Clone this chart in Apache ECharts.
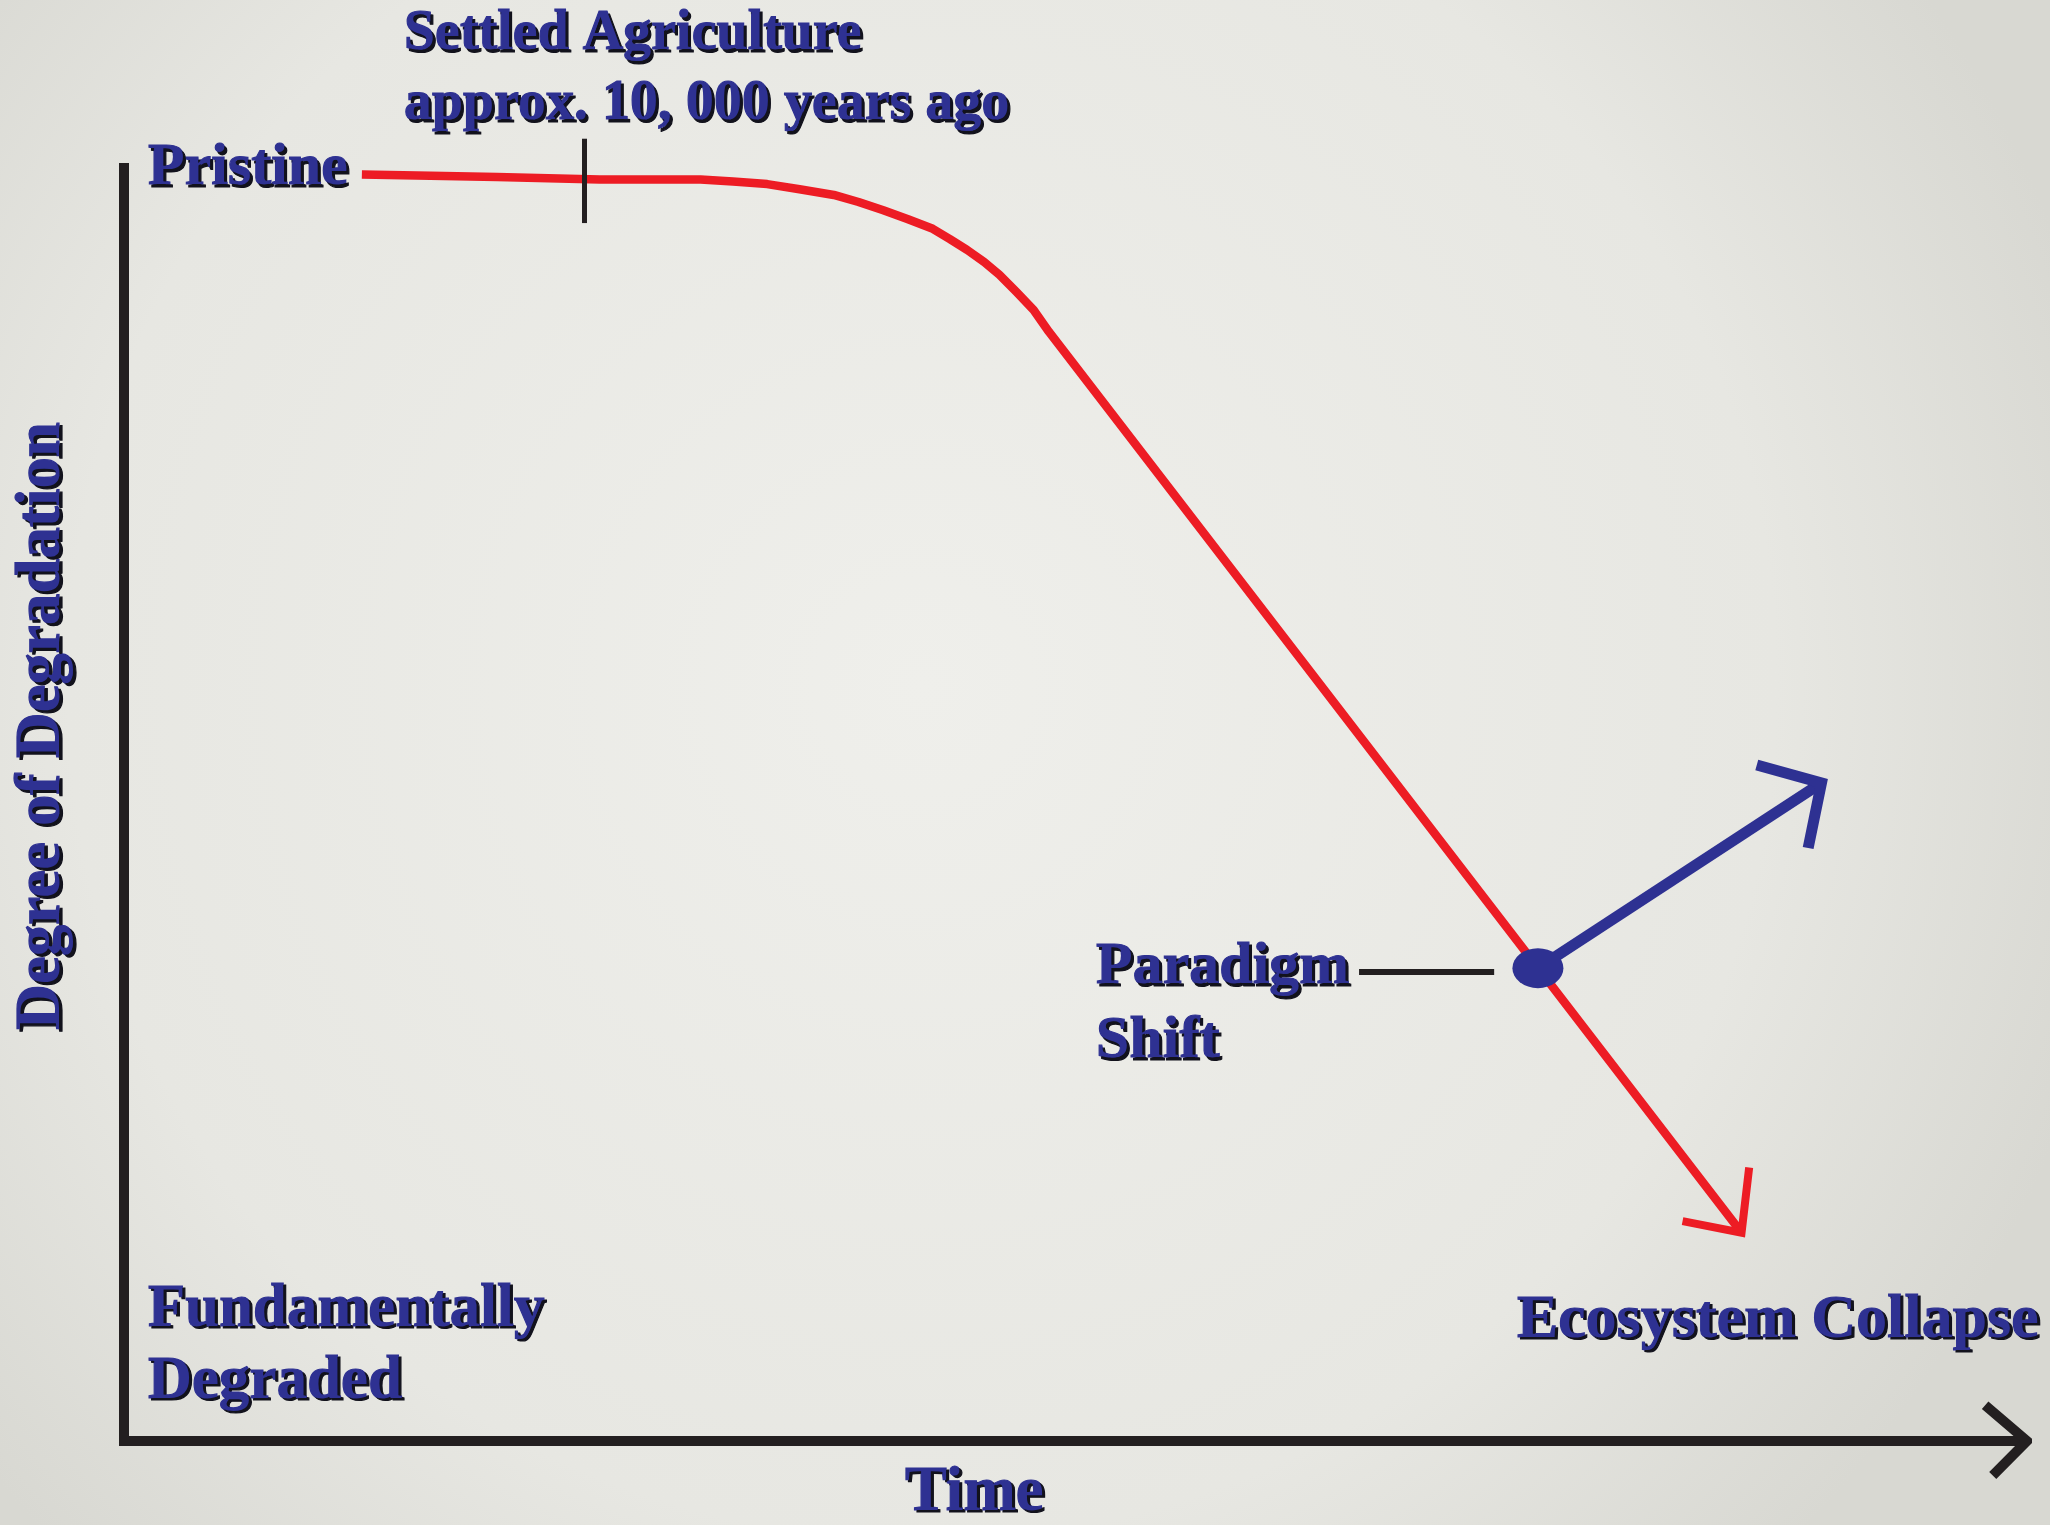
<!DOCTYPE html>
<html>
<head>
<meta charset="utf-8">
<script src="https://cdn.jsdelivr.net/npm/echarts@6/dist/echarts.min.js"></script>
<style>
html,body{margin:0;padding:0;}
#chart{width:2050px;height:1525px;}
</style>
</head>
<body>
<div id="chart"></div>
<script>
// ---- data (time 0..100, degradation level 0..100 where 100 = pristine) ----
const curveTime        = [12.5, 16.1, 19.6, 25.0, 27.6, 30.3, 32.0, 33.8, 35.5, 37.3, 38.6, 39.9, 41.2, 42.5, 43.4, 44.3, 45.2, 46.0, 46.9, 47.8, 48.6, 85.0];
const curveLevel       = [99.1, 99.0, 98.9, 98.7, 98.7, 98.7, 98.55, 98.35, 97.95, 97.5, 96.95, 96.3, 95.6, 94.85, 94.05, 93.2, 92.25, 91.25, 89.9, 88.5, 86.8, 16.3];
const collapseHeadX    = [81.9, 85.0, 85.4];
const collapseHeadY    = [17.2, 16.3, 21.4];
const paradigmShift    = [74.3, 37.0];
const recoveryTip      = [89.2, 51.5];
const recoveryHeadX    = [85.8, 89.2, 88.5];
const recoveryHeadY    = [52.9, 51.5, 46.4];
const agricultureTime  = 24.2;
const agricultureTickY = [101.9, 95.3];
const pointerX         = [64.9, 72.0];
const pointerY         = 36.7;
const axisCornerX      = [0, 0, 100];
const axisCornerY      = [100, 0, 0];
const timeArrowX       = [97.8, 100, 98.2];
const timeArrowY       = [2.8, 0, -2.7];
const labelTexts   = ['Pristine', 'Settled Agriculture\napprox. 10, 000 years ago', 'Degree of Degradation',
                      'Paradigm\nShift', 'Ecosystem Collapse', 'Fundamentally\nDegraded', 'Time'];
const labelAnchorX = [1.26, 14.71, -4.26, 51.08, 73.2, 1.26, 41.04];
const labelAnchorY = [99.55, 107.3, 55.95, 34.15, 9.42, 7.45, -4.1];

// ---- build ----
const zip = (xs, ys) => xs.map((x, i) => [x, ys[i]]);
const BLUE = '#2e3192', RED = '#ed1c24', BLACK = '#231f20';
const FONT = "'Liberation Serif', 'DejaVu Serif', serif";
const labelSizes = [60, 56, 63, 60, 62, 61, 63];
const labelRot   = [0, 0, 90, 0, 0, 0, 0];
const labelLH    = [60, 70, 63, 74, 62, 72, 63];

const lineSeries = (data, color, width, z, join) => ({
  type: 'line', data, symbol: 'none', clip: false, silent: true, z: z || 2,
  lineStyle: { color, width, join: join || 'miter', cap: 'butt', opacity: 1 }, animation: false
});

const labelData = labelTexts.map((t, i) => ({
  name: t,
  value: [labelAnchorX[i], labelAnchorY[i]],
  label: {
    fontSize: labelSizes[i],
    lineHeight: labelLH[i],
    rotate: labelRot[i],
    align: labelRot[i] ? 'center' : 'left'
  }
}));

const chart = echarts.init(document.getElementById('chart'), null, { renderer: 'canvas' });
chart.setOption({
  animation: false,
  backgroundColor: new echarts.graphic.RadialGradient(0.45, 0.45, 0.8, [
    { offset: 0, color: '#efefeb' },
    { offset: 0.7, color: '#e7e7e2' },
    { offset: 1, color: '#d8d8d2' }
  ]),
  grid: { left: 124, right: 23, top: 163, bottom: 84 },
  xAxis: { type: 'value', min: 0, max: 100, show: false },
  yAxis: { type: 'value', min: 0, max: 100, show: false },
  series: [
    lineSeries(zip(axisCornerX, axisCornerY), BLACK, 10, 1),
    lineSeries(zip(timeArrowX, timeArrowY), BLACK, 10, 1),
    lineSeries(zip(curveTime, curveLevel), RED, 8.5, 2, 'round'),
    lineSeries(zip(collapseHeadX, collapseHeadY), RED, 8, 2),
    lineSeries([[agricultureTime, agricultureTickY[0]], [agricultureTime, agricultureTickY[1]]], BLACK, 5, 3),
    lineSeries([[pointerX[0], pointerY], [pointerX[1], pointerY]], BLACK, 6, 3),
    lineSeries([paradigmShift, recoveryTip], BLUE, 11, 4),
    lineSeries(zip(recoveryHeadX, recoveryHeadY), BLUE, 11, 4),
    {
      type: 'scatter', data: [paradigmShift], symbol: 'circle', symbolSize: [51, 40],
      itemStyle: { color: BLUE, opacity: 1 }, z: 5, silent: true
    },
    {
      type: 'scatter', data: labelData, symbolSize: 0, z: 6, silent: true, clip: false,
      itemStyle: { opacity: 1 },
      label: {
        show: true, position: [0, 0], verticalAlign: 'middle', opacity: 1,
        formatter: p => p.name,
        fontFamily: FONT, fontWeight: 'bold', color: BLUE,
        textBorderColor: BLUE, textBorderWidth: 1.2,
        textShadowColor: 'rgba(18,18,28,1)', textShadowOffsetX: 2.5, textShadowOffsetY: 2.5, textShadowBlur: 0.5
      }
    }
  ]
});
</script>
</body>
</html>
